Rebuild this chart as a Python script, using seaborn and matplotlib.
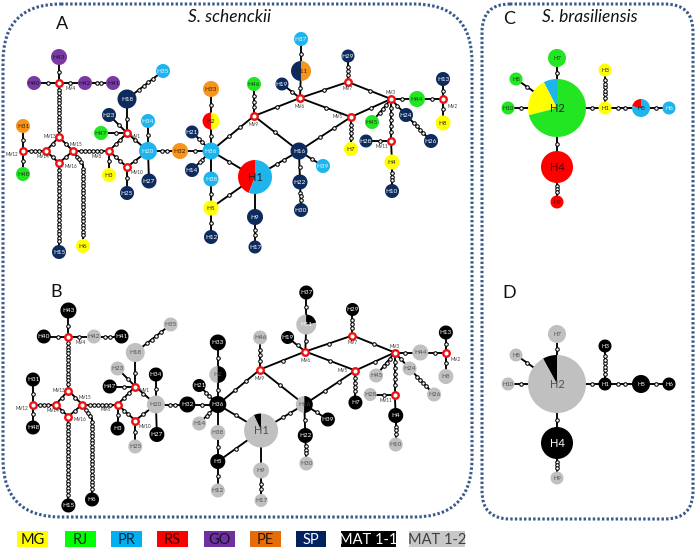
import numpy as np
import pandas as pd
import matplotlib
matplotlib.use('Agg')
import matplotlib.pyplot as plt
from matplotlib.patches import Wedge, FancyBboxPatch, Rectangle
import seaborn as sns

# --- DATA: S. schenckii network (panel A layout, pixels) ---
SS_NAMES = ['H1', 'H2', 'H3', 'H4', 'H5', 'H6', 'H7', 'H8', 'H9', 'H10',
            'H11', 'H12', 'H13', 'H14', 'H15', 'H16', 'H17', 'H18', 'H19', 'H20',
            'H21', 'H22', 'H23', 'H24', 'H25', 'H26', 'H27', 'H28', 'H29', 'H30',
            'H31', 'H32', 'H33', 'H34', 'H35', 'H36', 'H37', 'H38', 'H39', 'H40',
            'H41', 'H42', 'H43', 'H44', 'H45', 'H46', 'H47', 'H48']
SS_X = [255, 211, 109, 392, 211, 83, 351, 443, 255, 392,
        301, 211, 443, 192, 59, 299, 255, 127, 282, 148,
        192, 300, 109, 406, 127, 431, 149, 366, 348, 301,
        23, 180, 211, 148, 163, 211, 301, 211, 323, 34,
        113, 85, 59, 417, 372, 254, 101, 23]
SS_Y = [177, 121, 175, 162, 208, 246, 149, 123, 217, 191,
        71, 237, 79, 170, 252, 151, 247, 99, 84, 151,
        132, 182, 115, 115, 193, 141, 181, 141, 56, 210,
        126, 151, 89, 121, 71, 151, 39, 179, 166, 83,
        83, 83, 57, 99, 122, 84, 133, 174]
SS_SIZE = [17, 8.5, 7, 7.5, 7.5, 7, 7, 7.5, 8, 7,
           10, 7, 7, 7, 7, 8.5, 6.5, 9.5, 6.5, 9,
           6.5, 7.5, 7, 7, 7, 7, 7.5, 6.5, 6.5, 7,
           7, 8, 8, 7, 7, 8.5, 7, 7.5, 7, 7,
           7, 7, 8, 8, 7, 7, 7, 7]
SS_POP = ['RS:0.44,PR:0.56', 'RS:0.5,MG:0.5', 'MG', 'MG', 'MG', 'MG', 'MG', 'MG', 'SP', 'SP',
          'SP:0.5,PE:0.5', 'SP', 'SP', 'SP', 'SP', 'SP', 'SP', 'SP', 'SP', 'PR',
          'SP', 'SP', 'SP', 'SP', 'SP', 'SP', 'SP', 'SP', 'SP', 'SP',
          'PE', 'PE', 'PE', 'PR', 'PR', 'PR', 'PR', 'PR', 'PR', 'GO',
          'GO', 'GO', 'GO', 'RJ', 'RJ', 'RJ', 'RJ', 'RJ']
SS_MAT = ['M1:0.07,M2:0.93', 'M2:0.5,M1:0.5', 'M1', 'M1', 'M1', 'M1', 'M1', 'M2', 'M2', 'M2',
          'M2:0.78,M1:0.22', 'M2', 'M1', 'M2', 'M1', 'M2:0.5,M1:0.5', 'M2', 'M2', 'M1', 'M2',
          'M1', 'M1', 'M2', 'M2', 'M2', 'M2', 'M1', 'M2', 'M1', 'M2',
          'M1', 'M1', 'M1', 'M1', 'M2', 'M1', 'M1', 'M2', 'M1', 'M1',
          'M1', 'M2', 'M1', 'M2', 'M2', 'M2', 'M1', 'M1']

MV_NAMES = ['MV1', 'MV2', 'MV3', 'MV4', 'MV5', 'MV6', 'MV7', 'MV8',
            'MV9', 'MV10', 'MV11', 'MV12', 'MV13', 'MV14', 'MV15', 'MV16']
MV_X = [127, 443, 391, 59, 351, 300, 348, 109, 254, 127, 391, 23, 59, 46, 73, 59]
MV_Y = [133, 99, 99, 83, 117, 98, 82, 151, 116, 167, 141, 151, 137, 151, 151, 163]
MV_LABEL_DX = [9, 10, 0, 12, -13, 0, 0, -12, 0, 10, -9, -11, -9, -3, 3, 12]
MV_LABEL_DY = [4, 7, -6, 6, 0, 9, 7, 5, 9, 6, 6, 4, 0, 6, -7, 3]

# bend point for the long chain towards H6
BEND_NAMES = ['K1']
BEND_X = [83]
BEND_Y = [165]

# edges: (from, to, number of mutation steps drawn)
SS_EDGES = [('H43', 'MV4', 1), ('H40', 'MV4', 1), ('MV4', 'H42', 1), ('H42', 'H41', 2),
            ('MV4', 'MV13', 13), ('MV13', 'MV14', 1), ('MV13', 'MV15', 1), ('MV14', 'MV16', 1),
            ('MV15', 'MV16', 1), ('MV12', 'MV14', 3), ('MV12', 'H31', 1), ('MV12', 'H48', 1),
            ('MV16', 'H15', 21), ('MV15', 'K1', 3), ('K1', 'H6', 20), ('MV15', 'MV8', 6),
            ('MV8', 'MV1', 2), ('MV8', 'MV10', 2), ('MV8', 'H3', 1), ('MV1', 'H18', 1),
            ('MV1', 'H23', 1), ('MV1', 'H47', 1), ('MV1', 'H20', 1), ('MV10', 'H20', 1),
            ('MV10', 'H25', 1), ('H18', 'H35', 4), ('H20', 'H34', 1), ('H20', 'H27', 0),
            ('H20', 'H32', 2), ('H32', 'H36', 1), ('H36', 'H21', 2), ('H36', 'H14', 2),
            ('H36', 'H2', 1), ('H2', 'H33', 1), ('H36', 'H38', 0), ('H38', 'H5', 1),
            ('H5', 'H12', 1), ('H5', 'H1', 1), ('H36', 'H1', 1), ('H36', 'MV9', 2),
            ('MV9', 'H46', 3), ('MV9', 'MV6', 1), ('MV9', 'H16', 1), ('H1', 'H16', 2),
            ('H1', 'H9', 0), ('H9', 'H17', 2), ('MV6', 'H19', 1), ('MV6', 'H11', 1),
            ('H11', 'H37', 1), ('MV6', 'MV7', 1), ('MV6', 'MV5', 1), ('MV7', 'H29', 3),
            ('MV7', 'MV3', 1), ('MV5', 'MV3', 1), ('MV5', 'H7', 4), ('MV5', 'H16', 2),
            ('H16', 'H39', 1), ('H16', 'H22', 1), ('H22', 'H30', 3), ('MV3', 'H44', 1),
            ('H44', 'MV2', 1), ('MV2', 'H13', 1), ('MV2', 'H8', 1), ('MV3', 'H45', 3),
            ('MV3', 'H24', 1), ('H24', 'H26', 4), ('MV3', 'MV11', 5), ('MV11', 'H28', 1),
            ('MV11', 'H4', 0), ('H4', 'H10', 3)]

# --- DATA: S. brasiliensis network (panel C layout) ---
SB_NAMES = ['H1', 'H2', 'H3', 'H4', 'H5', 'H6', 'H7', 'H8', 'H9', 'H10']
SB_X = [605, 557, 605, 557, 641, 669, 557, 516, 557, 508]
SB_Y = [108, 108, 70, 167, 108, 108, 58, 79, 202, 108]
SB_SIZE = [6.5, 29, 6.5, 16, 9, 6.5, 9, 6.5, 6.5, 6.5]
SB_POP = ['MG', 'PR:0.075,MG:0.215,RJ:0.71', 'MG', 'RS', 'RS:0.22,PR:0.78',
          'PR', 'RJ', 'RJ', 'RS', 'RJ']
SB_MAT = ['M1', 'M1:0.08,M2:0.92', 'M1', 'M1', 'M1', 'M1', 'M2', 'M2', 'M2', 'M2']
SB_EDGES = [('H2', 'H7', 1), ('H2', 'H8', 1), ('H2', 'H10', 1), ('H2', 'H1', 1),
            ('H1', 'H3', 6), ('H1', 'H5', 2), ('H5', 'H6', 1), ('H2', 'H4', 1), ('H4', 'H9', 3)]

LEGEND_LABELS = ['MG', 'RJ', 'PR', 'RS', 'GO', 'PE', 'SP', 'MAT 1-1', 'MAT 1-2']
LEGEND_KEYS = ['MG', 'RJ', 'PR', 'RS', 'GO', 'PE', 'SP', 'M1', 'M2']

NODE_COLORS = {'MG': '#FFFF00', 'RJ': '#22E622', 'PR': '#1EB4EC', 'RS': '#FF0000',
               'GO': '#7A3AA6', 'PE': '#F7941D', 'SP': '#0E2B5E',
               'M1': '#000000', 'M2': '#C0C0C0'}
LEGEND_COLORS = {'MG': '#FFFF00', 'RJ': '#00FF00', 'PR': '#00B0F0', 'RS': '#FF0000',
                 'GO': '#7030A0', 'PE': '#E46C0A', 'SP': '#002060',
                 'M1': '#000000', 'M2': '#C8C8C8'}
TEXT_ON = {'MG': '#222222', 'RJ': '#1a3a1a', 'PR': '#f2f7ff', 'RS': '#5a0000',
           'GO': '#1a1030', 'PE': '#3a2000', 'SP': '#ffffff', 'M1': '#ffffff', 'M2': '#505050'}
LEGEND_TEXT = {'MG': '#111111', 'RJ': '#1a2a1a', 'PR': '#10243e', 'RS': '#3a0000',
               'GO': '#1a1030', 'PE': '#2a1500', 'SP': '#ffffff', 'M1': '#ffffff', 'M2': '#404040'}

BORDER = '#3A5A8C'

sns.set_theme(style='white')
plt.rcParams['font.family'] = ['Lato', 'DejaVu Sans']

fig = plt.figure(figsize=(6.96, 5.51), dpi=100)
ax = fig.add_axes([0, 0, 1, 1])
ax.set_xlim(0, 696)
ax.set_ylim(551, 0)
ax.set_axis_off()


def parse_pop(s):
    parts = []
    for p in s.split(','):
        if ':' in p:
            k, f = p.split(':')
            parts.append((k, float(f)))
        else:
            parts.append((p, 1.0))
    return parts


def draw_network(names, xs, ys, sizes, pops, edges, mv=None, bend=None,
                 big_label=(), fs=4.6, big_fs=8):
    pos = {n: (x, y, r) for n, x, y, r in zip(names, xs, ys, sizes)}
    if mv is not None:
        for n, x, y in zip(*mv[:3]):
            pos[n] = (x, y, 3.5)
    if bend is not None:
        for n, x, y in zip(*bend):
            pos[n] = (x, y, 0)

    ticks = []
    for a, b, k in edges:
        xa, ya, ra = pos[a]
        xb, yb, rb = pos[b]
        ax.plot([xa, xb], [ya, yb], color='black', lw=1.35, zorder=1, solid_capstyle='round')
        d = np.hypot(xb - xa, yb - ya)
        if k == 0 or d == 0:
            continue
        ux, uy = (xb - xa) / d, (yb - ya) / d
        s0, s1 = ra, d - rb
        for i in range(k):
            t = s0 + (s1 - s0) * (i + 1) / (k + 1)
            ticks.append((xa + ux * t, ya + uy * t))
    if ticks:
        tdf = pd.DataFrame(ticks, columns=['x', 'y'])
        sns.scatterplot(data=tdf, x='x', y='y', s=6.5, color='white', edgecolor='black',
                        linewidth=0.75, ax=ax, zorder=3, legend=False)

    if mv is not None:
        mdf = pd.DataFrame({'x': mv[1], 'y': mv[2]})
        sns.scatterplot(data=mdf, x='x', y='y', s=22, color='white', edgecolor='#EE1111',
                        linewidth=1.7, ax=ax, zorder=4, legend=False)
        for n, x, y, dx, dy in zip(*mv):
            ax.text(x + dx, y + dy, n, fontsize=3.3, ha='center', va='center',
                    color='#333333', zorder=5)

    for n, x, y, r, p in zip(names, xs, ys, sizes, pops):
        parts = parse_pop(p)
        start = 90.0
        for key, f in parts:
            if f >= 1.0:
                w = Wedge((x, y), r, 0, 360, facecolor=NODE_COLORS[key], edgecolor='none', zorder=6)
            else:
                # y axis is inverted, so mirror the angles to keep counter-clockwise order
                w = Wedge((x, y), r, -(start + f * 360), -start, facecolor=NODE_COLORS[key],
                          edgecolor='none', zorder=6)
            ax.add_patch(w)
            start += f * 360
        main = max(parts, key=lambda t: t[1])[0]
        if len(parts) > 1:
            main = parts[-1][0] if n == 'H11' else 'MG'
            if main == 'MG' and 'M2' in [k for k, _ in parts]:
                main = 'M2'
        col = TEXT_ON[main]
        ax.text(x, y + 0.3, n, fontsize=big_fs if n in big_label else fs,
                ha='center', va='center', color=col, zorder=7)
    return pos


# --- panel boxes ---
ax.add_patch(FancyBboxPatch((3, 4), 469, 513, boxstyle='round,pad=0,rounding_size=58',
                            fill=False, edgecolor=BORDER, lw=2.2, linestyle=(0, (0.8, 0.7)), zorder=0))
ax.add_patch(FancyBboxPatch((482, 4), 211, 515, boxstyle='round,pad=0,rounding_size=28',
                            fill=False, edgecolor=BORDER, lw=2.2, linestyle=(0, (0.8, 0.7)), zorder=0))

# --- A ---
mvA = (MV_NAMES, MV_X, MV_Y, MV_LABEL_DX, MV_LABEL_DY)
draw_network(SS_NAMES, SS_X, SS_Y, SS_SIZE, SS_POP, SS_EDGES, mv=mvA,
             bend=(BEND_NAMES, BEND_X, BEND_Y), big_label=('H1',))

# --- B: same network, shifted down, coloured by mating type ---
bx = [x * 0.983 + 10.4 for x in SS_X]
by = [y + 253.5 for y in SS_Y]
mvB = (MV_NAMES, [x * 0.983 + 10.4 for x in MV_X], [y + 253.5 for y in MV_Y],
       MV_LABEL_DX, MV_LABEL_DY)
draw_network(SS_NAMES, bx, by, SS_SIZE, SS_MAT, SS_EDGES, mv=mvB,
             bend=(BEND_NAMES, [x * 0.983 + 10.4 for x in BEND_X], [y + 253.5 for y in BEND_Y]),
             big_label=('H1',))

# --- C and D ---
draw_network(SB_NAMES, SB_X, SB_Y, SB_SIZE, SB_POP, SB_EDGES, big_label=('H2', 'H4'), fs=4.2)
draw_network(SB_NAMES, SB_X, [y + 276 for y in SB_Y], SB_SIZE, SB_MAT, SB_EDGES,
             big_label=('H2', 'H4'), fs=4.2)

# --- titles ---
ax.text(62, 24, 'A', fontsize=13, ha='center', va='center', color='#111111')
ax.text(56, 292, 'B', fontsize=13, ha='center', va='center', color='#111111')
ax.text(509, 19, 'C', fontsize=13, ha='center', va='center', color='#111111')
ax.text(509, 293, 'D', fontsize=13, ha='center', va='center', color='#111111')
ax.text(230, 17, 'S. schenckii', fontsize=12.5, style='italic', ha='center', va='center', color='#111111')
ax.text(590, 17, 'S. brasiliensis', fontsize=12.5, style='italic', ha='center', va='center', color='#111111')

# --- legend ---
LEG_X0 = [17, 65, 111, 157, 204, 250, 296, 341, 409]
LEG_W = [31, 31, 31, 31, 31, 31, 30, 55, 56]
for lab, key, x0, w in zip(LEGEND_LABELS, LEGEND_KEYS, LEG_X0, LEG_W):
    ax.add_patch(Rectangle((x0, 531), w, 16, facecolor=LEGEND_COLORS[key], edgecolor='none'))
    ax.text(x0 + w / 2, 539.5, lab, fontsize=10.5, ha='center', va='center',
            color=LEGEND_TEXT[key], family=['Liberation Sans Narrow', 'Lato', 'DejaVu Sans'])

fig.savefig('out.png', dpi=100)
